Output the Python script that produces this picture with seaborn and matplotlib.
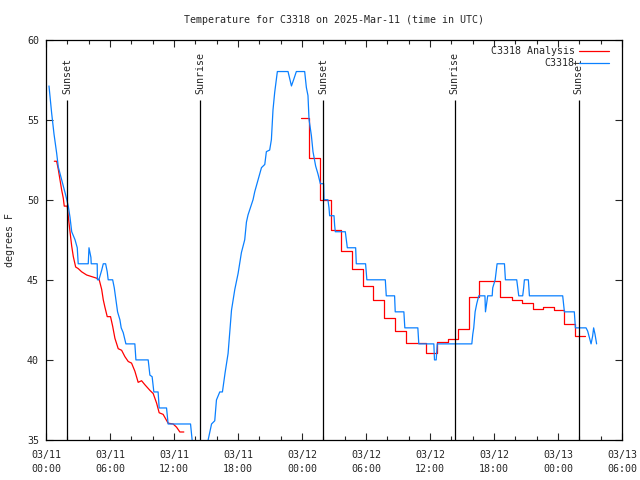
import matplotlib
matplotlib.use("Agg")
import matplotlib.pyplot as plt
import matplotlib.dates as mdates
import seaborn as sns
import pandas as pd
import numpy as np

START = pd.Timestamp("2025-03-11 00:00")

# observations: hours after 03/11 00:00 UTC, degrees F
obs_hours = [0.28, 0.53, 0.75, 1.00, 1.15, 1.47, 1.84, 2.09, 2.25, 2.41, 2.72, 2.93, 3.02,
             3.96, 4.03, 4.21, 4.24, 4.80, 4.82, 4.96, 5.22, 5.37, 5.59, 5.74, 5.83, 6.25,
             6.40, 6.55, 6.71, 6.93, 7.05, 7.24, 7.49, 8.33, 8.43, 9.58, 9.74, 9.95, 10.11,
             10.51, 10.61, 11.30, 11.45, 13.55, 13.70, 14.00, 14.90, 15.20, 15.52, 15.82,
             15.98, 16.29, 16.54, 16.79, 17.07, 17.32, 17.39, 17.70, 18.01, 18.32, 18.63,
             18.79, 18.94, 19.41, 19.57, 19.88, 20.20, 20.51, 20.66, 20.97, 21.13, 21.28,
             21.44, 21.69, 22.69, 23.01, 23.22, 23.47, 24.25, 24.41, 24.56, 24.66, 24.88,
             25.03, 25.28, 25.50, 25.72, 26.03, 26.06, 26.43, 26.53, 26.59, 27.00, 27.06,
             27.12, 28.06, 28.15, 28.25, 29.03, 29.09, 29.96, 30.08, 31.81, 31.90, 32.68,
             32.74, 33.55, 33.64, 34.86, 34.95, 36.36, 36.42, 36.58, 36.68, 39.92, 40.01,
             40.10, 40.23, 40.38, 40.57, 41.15, 41.20, 41.41, 41.83, 41.88, 42.11, 42.29,
             42.98, 43.07, 44.13, 44.22, 44.32, 44.69, 44.78, 44.85, 45.22, 45.32, 48.44,
             48.53, 48.60, 49.53, 49.63, 50.63, 50.78, 50.94, 51.10, 51.25, 51.34, 51.47,
             51.62]
obs_temp = [57.1, 55.4, 54.1, 52.9, 52.05, 51.25, 50.3, 49.6, 48.9, 48.0, 47.5, 47.0, 46.0,
            46.0, 47.0, 46.4, 46.0, 46.0, 45.0, 45.0, 45.6, 46.0, 46.0, 45.5, 45.0, 45.0,
            44.5, 43.75, 43.0, 42.5, 42.0, 41.7, 41.0, 41.0, 40.0, 40.0, 39.05, 38.95, 38.0,
            38.0, 37.0, 37.0, 36.0, 36.0, 35.0, 34.3, 34.3, 35.0, 36.0, 36.2,
            37.5, 38.0, 38.0, 39.2, 40.4, 42.5, 43.1, 44.4, 45.4, 46.7, 47.5,
            48.6, 49.05, 50.0, 50.5, 51.25, 52.0, 52.2, 53.0, 53.1, 53.75, 55.6,
            56.7, 58.0, 58.0, 57.1, 57.5, 58.0, 58.0, 57.0, 56.5, 55.0, 54.0,
            53.0, 52.1, 51.6, 51.0, 51.0, 50.0, 50.0, 49.5, 49.0, 49.0, 48.4,
            48.0, 48.0, 47.5, 47.0, 47.0, 46.0, 46.0, 45.0, 45.0, 44.0, 44.0,
            43.0, 43.0, 42.0, 42.0, 41.0, 41.0, 40.0, 40.0, 41.0, 41.0, 41.6,
            42.0, 43.0, 43.5, 44.0, 44.0, 43.0, 44.0, 44.0, 44.5, 45.0, 46.0,
            46.0, 45.0, 45.0, 44.5, 44.0, 44.0, 44.5, 45.0, 45.0, 44.0, 44.0,
            43.4, 43.0, 43.0, 42.0, 42.0, 41.8, 41.4, 41.0, 41.5, 42.0, 41.6,
            41.0]

# analysis, 03/11 overnight
ana1_hours = [0.78, 1.00, 1.15, 1.31, 1.47, 1.62, 1.71, 1.99, 2.09, 2.25, 2.41, 2.56, 2.78,
              3.02, 3.34, 3.81, 4.28, 4.75, 4.99, 5.22, 5.37, 5.52, 5.74, 6.05, 6.25, 6.46,
              6.77, 7.09, 7.40, 7.71, 8.02, 8.33, 8.64, 8.96, 9.27, 9.74, 10.05, 10.37,
              10.61, 10.98, 11.45, 11.92, 12.24, 12.55, 12.92]
ana1_temp = [52.4, 52.4, 51.9, 51.25, 50.6, 50.1, 49.6, 49.6, 48.95, 48.0, 47.1, 46.45, 45.8,
             45.7, 45.5, 45.3, 45.2, 45.1, 45.0, 44.4, 43.75, 43.3, 42.7, 42.7, 42.1, 41.35,
             40.7, 40.6, 40.2, 39.9, 39.8, 39.3, 38.6, 38.7, 38.45, 38.1, 37.9, 37.3,
             36.7, 36.6, 36.05, 36.0, 35.8, 35.5, 35.5]

# analysis, hourly steps from 03/12
ana2_hours = [23.94, 24.65, 25.68, 26.70, 27.69, 28.70, 29.70, 30.65, 31.68, 32.74, 33.71,
              34.68, 35.65, 36.64, 37.67, 38.67, 39.63, 40.64, 41.60, 42.60, 43.66, 44.60,
              45.63, 46.63, 47.59, 48.60, 49.63, 50.53]
ana2_temp = [55.1, 52.6, 50.0, 48.1, 46.8, 45.7, 44.6, 43.75, 42.6, 41.8, 41.05,
             41.05, 40.4, 41.1, 41.3, 41.9, 43.9, 44.95, 44.95, 43.9, 43.75, 43.55,
             43.2, 43.3, 43.1, 42.25, 41.5, 41.5]

sun_hours = [1.99, 14.48, 25.97, 38.33, 49.94]
sun_labels = ["Sunset", "Sunrise", "Sunset", "Sunrise", "Sunset"]


def to_time(hours):
    return START + pd.to_timedelta(hours, unit="h")


obs = pd.DataFrame({"time": to_time(obs_hours), "temp": obs_temp})
ana1 = pd.DataFrame({"time": to_time(ana1_hours), "temp": ana1_temp})
ana2 = pd.DataFrame({"time": to_time(ana2_hours), "temp": ana2_temp})

sns.set_style("ticks")
plt.rcParams["font.family"] = ["DejaVu Sans Mono"]
FS = 7.2

fig = plt.figure(figsize=(6.4, 4.8), dpi=100)
ax = fig.add_axes([46 / 640, 1 - 440 / 480, 576 / 640, 400.5 / 480])

sns.lineplot(data=ana1, x="time", y="temp", ax=ax, color="#ff0000", lw=0.9,
             estimator=None, label="C3318 Analysis")
sns.lineplot(data=ana2, x="time", y="temp", ax=ax, color="#ff0000", lw=0.9,
             estimator=None, drawstyle="steps-post", legend=False)
sns.lineplot(data=obs, x="time", y="temp", ax=ax, color="#0a80ff", lw=0.9,
             estimator=None, label="C3318")

for h, lab in zip(sun_hours, sun_labels):
    t = to_time(h)
    ax.vlines(t, 35, 56.25, color="black", lw=0.9)
    ax.text(t, 56.6, lab, rotation=90, ha="center", va="bottom", fontsize=FS)

ax.set_xlim(START, START + pd.Timedelta(hours=54))
ax.set_ylim(35, 60)
ax.set_yticks(np.arange(35, 61, 5))
ax.xaxis.set_major_locator(mdates.HourLocator(byhour=[0, 6, 12, 18]))
ax.xaxis.set_minor_locator(mdates.HourLocator(byhour=range(0, 24, 2)))
ax.xaxis.set_major_formatter(mdates.DateFormatter("%m/%d\n%H:%M"))

ax.tick_params(which="major", direction="in", length=5, width=0.8, top=True, right=True,
               labelsize=FS, pad=5)
ax.tick_params(axis="x", which="major", pad=7)
ax.tick_params(which="minor", direction="in", length=3, width=0.8, top=True, right=False,
               left=False)
for s in ax.spines.values():
    s.set_linewidth(0.9)
    s.set_color("black")

ax.set_xlabel("")
ax.set_ylabel("degrees F", fontsize=FS, labelpad=9)
ax.set_title("Temperature for C3318 on 2025-Mar-11 (time in UTC)", fontsize=FS, pad=12)

ax.legend(loc="upper right", bbox_to_anchor=(0.9896, 1.0), frameon=False,
          markerfirst=False, fontsize=FS, handlelength=3.0, labelspacing=0.2,
          borderaxespad=0.3, handletextpad=0.45)

fig.canvas.draw()
for tick in ax.xaxis.get_major_ticks():
    tick.label1.set_linespacing(1.55)

fig.savefig("out.png", dpi=100)
